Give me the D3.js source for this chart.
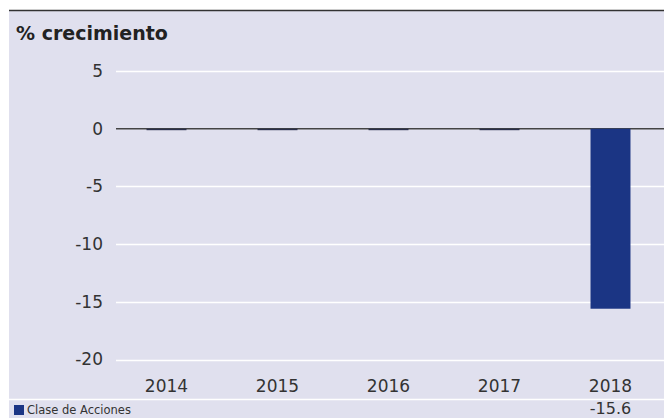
<!DOCTYPE html>
<html>
<head>
<meta charset="utf-8">
<script src="https://cdn.jsdelivr.net/npm/d3@7"></script>
<style>
  body { margin: 0; background: #fff; }
  svg { display: block; font-family: "DejaVu Sans", Verdana, sans-serif; }
</style>
</head>
<body>
<svg id="chart"></svg>
<script>
const years = ["2014", "2015", "2016", "2017", "2018"];
const values = [0, 0, 0, 0, -15.6];
const yTicks = [5, 0, -5, -10, -15, -20];
const seriesName = "Clase de Acciones";
const title = "% crecimiento";

const width = 664, height = 418;
const bg = "#e0e0ee";
const barColor = "#1b3584";

const svg = d3.select("#chart")
    .attr("width", width)
    .attr("height", height);

// panel
svg.append("rect")
    .attr("x", 9).attr("y", 11)
    .attr("width", width - 9).attr("height", height - 11)
    .attr("fill", bg);

svg.append("line")
    .attr("x1", 9).attr("x2", width)
    .attr("y1", 10.5).attr("y2", 10.5)
    .attr("stroke", "#333").attr("stroke-width", 1.5);

svg.append("text")
    .attr("x", 16).attr("y", 40)
    .attr("font-size", 19)
    .attr("font-weight", "bold")
    .attr("fill", "#222")
    .text(title);

const x = d3.scaleBand()
    .domain(years)
    .range([111, 666])
    .paddingInner(0.64)
    .paddingOuter(0.32);

const y = d3.scaleLinear()
    .domain([-20, 5])
    .range([359.5, 71]);

// gridlines
svg.append("g")
    .selectAll("line")
    .data(yTicks.filter(d => d !== 0))
    .join("line")
    .attr("x1", 116).attr("x2", width)
    .attr("y1", d => Math.round(y(d)) + 0.5)
    .attr("y2", d => Math.round(y(d)) + 0.5)
    .attr("stroke", "#fff").attr("stroke-width", 1.5);

// y labels
svg.append("g")
    .selectAll("text")
    .data(yTicks)
    .join("text")
    .attr("x", 103)
    .attr("y", d => y(d))
    .attr("dy", "0.35em")
    .attr("text-anchor", "end")
    .attr("font-size", 17)
    .attr("fill", "#333")
    .text(d => d);

// zero line
svg.append("line")
    .attr("x1", 116).attr("x2", width)
    .attr("y1", y(0)).attr("y2", y(0))
    .attr("stroke", "#444").attr("stroke-width", 1.5);

// bars
svg.append("g")
    .selectAll("rect")
    .data(values)
    .join("rect")
    .attr("x", (d, i) => x(years[i]))
    .attr("width", x.bandwidth())
    .attr("y", d => d < 0 ? y(0) : y(d))
    .attr("height", d => Math.max(1.5, Math.abs(y(d) - y(0))))
    .attr("fill", d => d === 0 ? "#2a2f4a" : barColor);

// year labels
svg.append("g")
    .selectAll("text")
    .data(years)
    .join("text")
    .attr("x", d => x(d) + x.bandwidth() / 2)
    .attr("y", 392)
    .attr("text-anchor", "middle")
    .attr("font-size", 17)
    .attr("fill", "#333")
    .text(d => d);

svg.append("line")
    .attr("x1", 9).attr("x2", width)
    .attr("y1", 399.5).attr("y2", 399.5)
    .attr("stroke", "#fff").attr("stroke-width", 1.5);

// legend row
svg.append("rect")
    .attr("x", 14).attr("y", 405)
    .attr("width", 10).attr("height", 10)
    .attr("fill", barColor);

svg.append("text")
    .attr("x", 27).attr("y", 414)
    .attr("font-size", 11.5)
    .attr("fill", "#333")
    .text(seriesName);

svg.append("g")
    .selectAll("text")
    .data(values)
    .join("text")
    .attr("x", (d, i) => x(years[i]) + x.bandwidth() / 2)
    .attr("y", 414)
    .attr("text-anchor", "middle")
    .attr("font-size", 16)
    .attr("fill", "#333")
    .text(d => d === 0 ? "" : d);
</script>
</body>
</html>
